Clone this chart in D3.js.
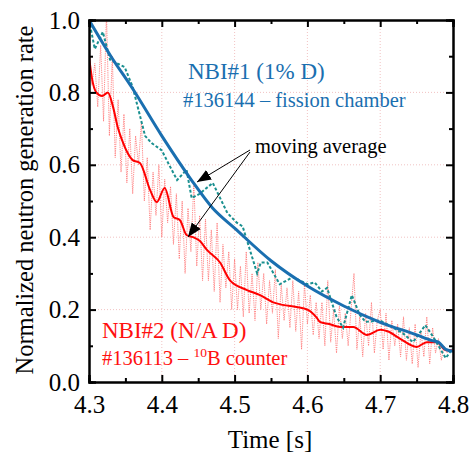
<!DOCTYPE html>
<html><head><meta charset="utf-8">
<script src="https://cdn.jsdelivr.net/npm/d3@7"></script>
<style>body{margin:0;background:#fff}</style>
</head><body>
<svg id="c" width="472" height="459"></svg>
<script>
// Blue smooth (NBI#1 fit)
const blueT = [4.30,4.33,4.36,4.40,4.44,4.47,4.50,4.55,4.60,4.65,4.70,4.75,4.77,4.78,4.79,4.80];
const blueV = [1.00,0.90,0.81,0.68,0.56,0.48,0.425,0.335,0.265,0.21,0.165,0.13,0.115,0.11,0.09,0.085];
// Teal dashed (NBI#1 moving average)
const tealT = [4.300,4.308,4.319,4.329,4.349,4.360,4.377,4.386,4.400,4.410,4.421,4.434,4.441,4.452,4.470,4.490,4.503,4.511,4.521,4.531,4.536,4.545,4.562,4.580,4.600,4.610,4.620,4.627,4.640,4.649,4.661,4.672,4.680,4.700,4.731,4.745,4.762,4.773,4.790,4.800];
const tealV = [1.00,0.92,0.967,0.89,0.87,0.815,0.68,0.66,0.64,0.60,0.558,0.586,0.508,0.52,0.55,0.467,0.44,0.43,0.365,0.30,0.33,0.33,0.27,0.29,0.27,0.275,0.25,0.26,0.18,0.15,0.24,0.185,0.166,0.17,0.135,0.11,0.157,0.124,0.066,0.094];
// Red smooth (NBI#2 moving average)
const redT = [4.300,4.304,4.310,4.318,4.326,4.333,4.340,4.345,4.360,4.370,4.384,4.393,4.404,4.416,4.425,4.434,4.443,4.452,4.462,4.480,4.494,4.517,4.535,4.553,4.566,4.585,4.600,4.613,4.617,4.630,4.645,4.663,4.682,4.700,4.710,4.727,4.750,4.764,4.778,4.790,4.800];
const redV = [0.90,0.84,0.80,0.79,0.80,0.76,0.70,0.67,0.613,0.605,0.53,0.497,0.536,0.456,0.447,0.406,0.40,0.39,0.365,0.33,0.28,0.254,0.24,0.22,0.213,0.207,0.20,0.177,0.166,0.16,0.152,0.152,0.13,0.144,0.14,0.12,0.097,0.11,0.11,0.088,0.088];
// Raw noisy signal (NBI#2, 10B counter), sampled every 4 ms from 4.300 s
const rawV = [
 0.90,0.82,0.88,0.76,0.93,0.72,1.02,0.68,0.90,0.62,
 0.78,0.58,0.74,0.55,0.70,0.52,0.68,0.60,0.72,0.50,
 0.62,0.42,0.58,0.46,0.60,0.40,0.56,0.44,0.54,0.38,
 0.52,0.34,0.50,0.30,0.48,0.36,0.55,0.32,0.46,0.28,
 0.45,0.28,0.42,0.25,0.44,0.22,0.38,0.26,0.36,0.20,
 0.34,0.20,0.32,0.18,0.36,0.19,0.30,0.17,0.33,0.20,
 0.30,0.16,0.28,0.19,0.31,0.12,0.27,0.17,0.26,0.15,
 0.28,0.14,0.25,0.09,0.27,0.16,0.24,0.13,0.22,0.12,
 0.22,0.10,0.28,0.11,0.20,0.08,0.21,0.12,0.19,0.10,
 0.20,0.30,0.09,0.18,0.07,0.19,0.10,0.22,0.08,0.17,
 0.20,0.09,0.19,0.06,0.17,0.10,0.16,0.07,0.18,0.06,
 0.15,0.05,0.16,0.04,0.14,0.07,0.18,0.05,0.15,0.08,
 0.12,0.06,0.10,0.08,0.09,0.09];
const rawT0 = 4.300, rawDt = 0.004;
const xTicks = [4.3,4.4,4.5,4.6,4.7,4.8];
const yTicks = [0.0,0.2,0.4,0.6,0.8,1.0];

const svg = d3.select("#c");
const L=89, R=453, T=20, B=382;
const x = d3.scaleLinear().domain([4.3,4.8]).range([L,R]);
const y = d3.scaleLinear().domain([0,1]).range([B,T]);
const font = "'Liberation Serif','Times New Roman',serif";

svg.append("defs").append("clipPath").attr("id","clip")
  .append("rect").attr("x",L).attr("y",T).attr("width",R-L).attr("height",B-T);

// grid
const grid = svg.append("g").attr("stroke","#eeb4b4").attr("stroke-width",0.8).attr("stroke-dasharray","1,2");
xTicks.slice(1,-1).forEach(t=>grid.append("line").attr("x1",x(t)).attr("x2",x(t)).attr("y1",T).attr("y2",B));
yTicks.slice(1,-1).forEach(t=>grid.append("line").attr("y1",y(t)).attr("y2",y(t)).attr("x1",L).attr("x2",R));

const plot = svg.append("g").attr("clip-path","url(#clip)");
const line = d3.line().x(d=>x(d[0])).y(d=>y(d[1]));
const rawPts = rawV.map((v,i)=>[rawT0+i*rawDt, v]);
plot.append("path").attr("d",line(rawPts)).attr("fill","none")
  .attr("stroke","#ff6a6a").attr("stroke-width",1).attr("stroke-dasharray","1.2,1").attr("opacity",0.8);
const curve = d3.line().x(d=>x(d[0])).y(d=>y(d[1])).curve(d3.curveMonotoneX);
plot.append("path").attr("d",curve(redT.map((t,i)=>[t,redV[i]]))).attr("fill","none")
  .attr("stroke","#ff0000").attr("stroke-width",2);
plot.append("path").attr("d",line(tealT.map((t,i)=>[t,tealV[i]]))).attr("fill","none")
  .attr("stroke","#1a9090").attr("stroke-width",2).attr("stroke-dasharray","3,2");
plot.append("path").attr("d",curve(blueT.map((t,i)=>[t,blueV[i]]))).attr("fill","none")
  .attr("stroke","#1a6fb0").attr("stroke-width",3);

// axes with inward ticks
const minorX = d3.range(4.35,4.8,0.1);
const minorY = d3.range(0.1,1,0.2);
const ax = [
  [d3.axisBottom(x).tickValues(xTicks).tickSize(-7).tickFormat(d3.format(".1f")), `translate(0,${B})`, "b"],
  [d3.axisBottom(x).tickValues(minorX).tickSize(-4).tickFormat(""), `translate(0,${B})`, ""],
  [d3.axisTop(x).tickValues(xTicks).tickSize(-7).tickFormat(""), `translate(0,${T})`, ""],
  [d3.axisTop(x).tickValues(minorX).tickSize(-4).tickFormat(""), `translate(0,${T})`, ""],
  [d3.axisLeft(y).tickValues(yTicks).tickSize(-7).tickFormat(d3.format(".1f")), `translate(${L},0)`, "l"],
  [d3.axisLeft(y).tickValues(minorY).tickSize(-4).tickFormat(""), `translate(${L},0)`, ""],
  [d3.axisRight(y).tickValues(yTicks).tickSize(-7).tickFormat(""), `translate(${R},0)`, ""],
  [d3.axisRight(y).tickValues(minorY).tickSize(-4).tickFormat(""), `translate(${R},0)`, ""]
];
ax.forEach(([a,tr,lab])=>{
  const g = svg.append("g").attr("transform",tr).call(a);
  g.selectAll(".tick line").attr("stroke","#000").attr("stroke-width",2);
  g.select(".domain").attr("stroke","#000").attr("stroke-width",2);
  g.selectAll("text").attr("font-family",font).attr("font-size",25).attr("fill","#000");
  if(lab==="b") g.selectAll("text").attr("y",13);
  if(lab==="l") g.selectAll("text").attr("x",-9);
});

// axis titles
svg.append("text").attr("x",270).attr("y",448).attr("text-anchor","middle")
  .attr("font-family",font).attr("font-size",25).text("Time [s]");
svg.append("text").attr("transform",`translate(33,200) rotate(-90)`).attr("text-anchor","middle")
  .attr("font-family",font).attr("font-size",24.5).text("Normalized neutron generation rate");

// annotations
svg.append("text").attr("x",188).attr("y",79).attr("font-family",font).attr("font-size",23)
  .attr("fill","#1a6fb0").text("NBI#1 (1% D)");
svg.append("text").attr("x",183).attr("y",107).attr("font-family",font).attr("font-size",20.5)
  .attr("fill","#1a6fb0").text("#136144 – fission chamber");
svg.append("text").attr("x",102).attr("y",338).attr("font-family",font).attr("font-size",23)
  .attr("fill","#ff1010").text("NBI#2 (N/A D)");
const t2 = svg.append("text").attr("x",102).attr("y",365).attr("font-family",font).attr("font-size",20.5)
  .attr("fill","#ff1010");
t2.append("tspan").text("#136113 – ");
t2.append("tspan").attr("font-size",13.5).attr("dy",-8).text("10");
t2.append("tspan").attr("dy",8).text("B counter");
svg.append("text").attr("x",255).attr("y",153).attr("font-family",font).attr("font-size",20.5)
  .attr("fill","#000").text("moving average");

// arrows
svg.select("defs").append("marker").attr("id","ah").attr("viewBox","0 0 10 10")
  .attr("refX",10).attr("refY",5).attr("markerWidth",14).attr("markerHeight",14)
  .attr("markerUnits","userSpaceOnUse").attr("orient","auto")
  .append("path").attr("d","M0,1 L10,5 L0,9 Z").attr("fill","#000");
[[250,150,197,182],[250,152,188,237]].forEach(([x1,y1,x2,y2])=>{
  svg.append("line").attr("x1",x1).attr("y1",y1).attr("x2",x2).attr("y2",y2)
    .attr("stroke","#000").attr("stroke-width",1).attr("marker-end","url(#ah)");
});
</script>
</body></html>
